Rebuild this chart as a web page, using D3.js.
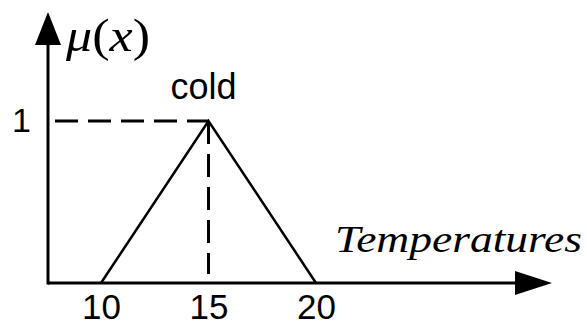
<!DOCTYPE html>
<html lang="en">
<head>
    <meta charset="UTF-8">
    <title>cold membership</title>
    <script src="https://d3js.org/d3.v7.min.js"></script>
    <style>
        body {margin: 0; background: white;}
        text {font-family: "Liberation Sans", Arial, sans-serif;}
        .serif {font-family: "Liberation Serif", "Times New Roman", serif; font-style: italic;}
    </style>
</head>
<body>
<script>
    const width = 587;
    const height = 325;

    // data
    const xTicks = [10, 15, 20];
    const yTicks = [1];
    const coldX = [10, 15, 20];
    const coldMu = [0, 1, 0];
    const setName = "cold";
    const peakX = 15;
    const peakMu = 1;

    const origin = {x: 48, y: 283};
    const axisEnd = {x: 552, y: 12};

    const x = d3.scaleLinear().domain([10, 20]).range([101, 316]);
    const y = d3.scaleLinear().domain([0, 1]).range([origin.y, 121]);

    const svg = d3.select("body").append("svg")
            .attr("width", width).attr("height", height);

    // tick labels
    const xAxis = svg.append("g")
            .attr("transform", `translate(0,${origin.y})`)
            .call(d3.axisBottom(x).tickValues(xTicks).tickSize(0).tickPadding(11).tickFormat(d3.format("d")));
    xAxis.select(".domain").remove();
    xAxis.selectAll("text")
            .style("font-family", '"Liberation Sans", Arial, sans-serif')
            .style("font-size", "35px")
            .attr("fill", "black");

    const yAxis = svg.append("g")
            .attr("transform", `translate(${origin.x},0)`)
            .call(d3.axisLeft(y).tickValues(yTicks).tickSize(0).tickPadding(17).tickFormat(d3.format("d")));
    yAxis.select(".domain").remove();
    yAxis.selectAll("text")
            .style("font-family", '"Liberation Sans", Arial, sans-serif')
            .style("font-size", "34px")
            .attr("fill", "black");

    // dashed guides
    svg.append("line")
            .attr("x1", origin.x + 7).attr("x2", x(peakX))
            .attr("y1", y(peakMu)).attr("y2", y(peakMu))
            .style("stroke", "black").style("stroke-width", 3)
            .style("stroke-dasharray", "23,10");
    svg.append("line")
            .attr("x1", x(peakX)).attr("x2", x(peakX))
            .attr("y1", y(peakMu)).attr("y2", origin.y - 9)
            .style("stroke", "black").style("stroke-width", 3)
            .style("stroke-dasharray", "23,10");

    // triangle
    const line = d3.line().x(d => x(d[0])).y(d => y(d[1]));
    svg.append("path")
            .datum(coldX.map((d, i) => [d, coldMu[i]]))
            .attr("d", line)
            .style("fill", "none")
            .style("stroke", "black")
            .style("stroke-width", 2.5)
            .style("stroke-linejoin", "miter");

    // axes with arrows
    svg.append("line")
            .attr("x1", origin.x).attr("x2", axisEnd.x - 20)
            .attr("y1", origin.y).attr("y2", origin.y)
            .style("stroke", "black").style("stroke-width", 3);
    svg.append("line")
            .attr("x1", origin.x).attr("x2", origin.x)
            .attr("y1", origin.y + 1.5).attr("y2", axisEnd.y + 20)
            .style("stroke", "black").style("stroke-width", 3);
    svg.append("path")
            .attr("d", `M${axisEnd.x},${origin.y} L${axisEnd.x - 37},${origin.y - 12} L${axisEnd.x - 37},${origin.y + 12} Z`)
            .style("fill", "black");
    svg.append("path")
            .attr("d", `M${origin.x},${axisEnd.y} L${origin.x - 13},${axisEnd.y + 33} L${origin.x + 13},${axisEnd.y + 33} Z`)
            .style("fill", "black");

    // labels
    svg.append("text")
            .attr("x", x(peakX) - 5).attr("y", y(peakMu) - 22)
            .attr("text-anchor", "middle")
            .style("font-size", "36px")
            .text(setName);

    const mu = svg.append("text")
            .attr("class", "serif")
            .attr("x", 66).attr("y", 51)
            .attr("textLength", 84)
            .attr("lengthAdjust", "spacingAndGlyphs")
            .style("font-size", "46px");
    mu.append("tspan").text("\u03bc");
    mu.append("tspan").style("font-style", "normal").text("(");
    mu.append("tspan").text("x");
    mu.append("tspan").style("font-style", "normal").text(")");

    svg.append("text")
            .attr("class", "serif")
            .attr("x", 335).attr("y", 252)
            .attr("textLength", 247)
            .attr("lengthAdjust", "spacingAndGlyphs")
            .style("font-size", "38px")
            .text("Temperatures");
</script>
</body>
</html>
